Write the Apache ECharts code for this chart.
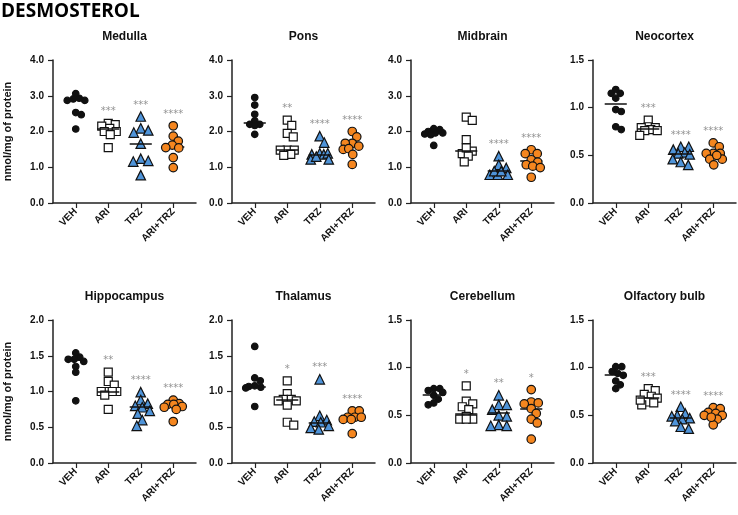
<!DOCTYPE html>
<html>
<head>
<meta charset="utf-8">
<script src="https://cdn.jsdelivr.net/npm/echarts@6/dist/echarts.min.js"></script>
<style>
html, body { margin: 0; padding: 0; background: #fff; }
#main { width: 738px; height: 515px; }
</style>
</head>
<body>
<div id="main"></div>
<script>
var groups = ['VEH', 'ARI', 'TRZ', 'ARI+TRZ'];
var regionNames = ['Medulla', 'Pons', 'Midbrain', 'Neocortex', 'Hippocampus', 'Thalamus', 'Cerebellum', 'Olfactory bulb'];
var yMaxes = [4, 4, 4, 1.5, 2, 2, 1.5, 1.5];
var yIntervals = [1, 1, 1, 0.5, 0.5, 0.5, 0.5, 0.5];

// values per group: VEH, ARI, TRZ, ARI+TRZ
var medulla = [
    [2.93, 2.87, 3.06, 2.87, 2.91, 2.53, 2.47, 2.07],
    [2.23, 2.19, 2.15, 2.09, 2.0, 2.0, 1.91, 1.55],
    [2.42, 2.09, 1.97, 2.03, 1.66, 1.24, 1.16, 1.18, 0.78],
    [2.16, 1.87, 1.73, 1.62, 1.54, 1.55, 1.27, 0.99]
];
var pons = [
    [2.95, 2.74, 2.48, 2.30, 2.20, 2.20, 2.17, 1.92],
    [2.32, 2.17, 1.95, 1.85, 1.48, 1.48, 1.48, 1.36, 1.33],
    [1.87, 1.69, 1.39, 1.36, 1.36, 1.39, 1.22, 1.22, 1.30],
    [2.0, 1.85, 1.67, 1.67, 1.59, 1.50, 1.52, 1.36, 1.08]
];
var midbrain = [
    [2.08, 2.00, 2.05, 1.96, 1.91, 1.93, 1.96, 1.61],
    [2.40, 2.31, 1.77, 1.45, 1.38, 1.54, 1.31, 1.15],
    [1.31, 1.07, 0.98, 0.79, 0.79, 0.79, 0.89, 0.89],
    [1.49, 1.38, 1.38, 1.21, 1.14, 1.07, 1.03, 0.99, 0.72]
];
var neocortex = [
    [1.15, 1.19, 1.15, 1.10, 0.96, 0.98, 0.77, 0.80],
    [0.87, 0.80, 0.79, 0.79, 0.77, 0.76, 0.76, 0.71],
    [0.59, 0.59, 0.56, 0.53, 0.51, 0.52, 0.46, 0.43, 0.40],
    [0.63, 0.59, 0.52, 0.52, 0.52, 0.46, 0.46, 0.40, 0.50]
];
var hippocampus = [
    [1.48, 1.54, 1.45, 1.42, 1.45, 1.35, 1.27, 0.87],
    [1.27, 1.14, 1.09, 1.00, 1.00, 1.00, 1.00, 0.95, 0.75],
    [0.99, 0.88, 0.83, 0.80, 0.78, 0.73, 0.69, 0.60, 0.52],
    [0.88, 0.83, 0.82, 0.82, 0.79, 0.78, 0.75, 0.58]
];
var thalamus = [
    [1.63, 1.19, 1.15, 1.08, 1.06, 1.07, 1.05, 0.79],
    [1.15, 0.97, 0.89, 0.87, 0.89, 0.87, 0.81, 0.57, 0.53],
    [1.17, 0.66, 0.60, 0.58, 0.57, 0.52, 0.49, 0.47],
    [0.73, 0.73, 0.64, 0.64, 0.64, 0.61, 0.61, 0.41]
];
var cerebellum = [
    [0.78, 0.78, 0.76, 0.74, 0.71, 0.67, 0.63, 0.61],
    [0.81, 0.65, 0.62, 0.59, 0.56, 0.49, 0.46, 0.46, 0.46],
    [0.71, 0.61, 0.61, 0.56, 0.50, 0.49, 0.40, 0.39, 0.39],
    [0.77, 0.64, 0.63, 0.62, 0.57, 0.52, 0.46, 0.42, 0.25]
];
var olfactory = [
    [1.01, 1.01, 0.96, 0.94, 0.92, 0.86, 0.82, 0.78],
    [0.78, 0.76, 0.72, 0.70, 0.68, 0.64, 0.63, 0.61, 0.66],
    [0.59, 0.52, 0.50, 0.49, 0.47, 0.46, 0.44, 0.38, 0.36],
    [0.58, 0.57, 0.53, 0.52, 0.50, 0.50, 0.46, 0.40, 0.48]
];

// centre lines as drawn
var medullaLine = [2.91, 2.07, 1.66, 1.57];
var ponsLine = [2.25, 1.48, 1.36, 1.61];
var midbrainLine = [1.98, 1.45, 0.91, 1.17];
var neocortexLine = [1.04, 0.78, 0.52, 0.51];
var hippocampusLine = [1.45, 1.00, 0.78, 0.80];
var thalamusLine = [1.06, 0.88, 0.56, 0.64];
var cerebellumLine = [0.72, 0.52, 0.53, 0.57];
var olfactoryLine = [0.93, 0.68, 0.47, 0.50];

var stars = [
    ['', '***', '***', '****'],
    ['', '**', '****', '****'],
    ['', '', '****', '****'],
    ['', '***', '****', '****'],
    ['', '**', '****', '****'],
    ['', '*', '***', '****'],
    ['', '*', '**', '*'],
    ['', '***', '****', '****']
];

var regionData = [medulla, pons, midbrain, neocortex, hippocampus, thalamus, cerebellum, olfactory];
var regionLines = [medullaLine, ponsLine, midbrainLine, neocortexLine, hippocampusLine, thalamusLine, cerebellumLine, olfactoryLine];

var gridLeft = [53, 232, 411, 593];
var gridTop = [60, 320];
var gridW = 143, gridH = 143;
var xMin = 0.3, xMax = 4.7;
var pxPerX = gridW / (xMax - xMin);

var groupStyle = [
    { symbol: 'circle', size: 6.5, color: '#111', spread: 6 },
    { symbol: 'rect', size: 8, color: '#fff', spread: 7 },
    { symbol: 'triangle', size: 9.5, color: '#4f94d9', spread: 8 },
    { symbol: 'circle', size: 8.5, color: '#f5861f', spread: 7 }
];
var maxHalfWidth = 9;

// spread overlapping points sideways inside a limited width, in pixels
function swarm(vals, d, pxY) {
    var placed = [];
    var out = [];
    var order = vals.map(function (v, i) { return i; });
    order.sort(function (a, b) { return vals[b] - vals[a]; });
    var cands = [0];
    for (var s = 0.5; s <= maxHalfWidth; s += 0.5) cands.push(s, -s);
    order.forEach(function (i) {
        var y = vals[i] * pxY;
        var best = 0, bestCost = Infinity;
        cands.forEach(function (c) {
            var cost = Math.abs(c) * 0.08;
            placed.forEach(function (p) {
                var ex = c - p.x, ey = y - p.y;
                var ov = d - Math.sqrt(ex * ex + ey * ey);
                if (ov > 0) cost += ov * ov;
            });
            if (cost < bestCost - 1e-9) { bestCost = cost; best = c; }
        });
        placed.push({ x: best, y: y });
        out[i] = best;
    });
    return out;
}

var labelFont = 'Liberation Sans';
var option = {
    animation: false,
    backgroundColor: '#fff',
    grid: [],
    xAxis: [],
    yAxis: [],
    series: [],
    graphic: [{
        type: 'text', left: 1, top: 2,
        style: { text: 'DESMOSTEROL', font: 'bold 19px "Open Sans"', fill: '#000' }
    }]
};

regionNames.forEach(function (name, r) {
    var left = gridLeft[r % 4], top = gridTop[Math.floor(r / 4)];
    var pxPerY = gridH / yMaxes[r];
    option.grid.push({ left: left, top: top, width: gridW, height: gridH });
    option.graphic.push({
        type: 'text', x: left + gridW / 2, y: top - 23,
        style: { text: name, font: 'bold 12px "' + labelFont + '"', fill: '#111', textAlign: 'center', textVerticalAlign: 'middle' }
    });
    option.xAxis.push({
        type: 'value', gridIndex: r, min: xMin, max: xMax,
        splitLine: { show: false },
        axisLine: { lineStyle: { color: '#222', width: 1.5 } },
        axisTick: { customValues: [1, 2, 3, 4], length: 5, lineStyle: { color: '#222', width: 1.2 } },
        axisLabel: {
            customValues: [1, 2, 3, 4], rotate: 45, margin: 7,
            color: '#111', fontSize: 10, fontWeight: 'bold', fontFamily: labelFont,
            formatter: function (v) { return groups[Math.round(v) - 1]; }
        }
    });
    option.yAxis.push({
        type: 'value', gridIndex: r, min: 0, max: yMaxes[r], interval: yIntervals[r],
        name: r % 4 === 0 ? 'nmol/mg of protein' : '',
        nameLocation: 'middle', nameGap: 40,
        nameTextStyle: { color: '#111', fontSize: 11, fontWeight: 'bold', fontFamily: labelFont },
        splitLine: { show: false },
        axisLine: { show: true, lineStyle: { color: '#222', width: 1.5 } },
        axisTick: { show: true, length: 5, lineStyle: { color: '#222', width: 1.2 } },
        axisLabel: {
            margin: 9, color: '#111', fontSize: 10, fontWeight: 'bold', fontFamily: labelFont,
            formatter: function (v) { return v.toFixed(1); }
        }
    });

    var data = regionData[r];
    var topPoints = [];
    data.forEach(function (vals, g) {
        var st = groupStyle[g];
        var offs = swarm(vals, st.spread, pxPerY);
        var pts = vals.map(function (v, i) { return [g + 1 + offs[i] / pxPerX, v]; });
        var m = regionLines[r][g];
        option.series.push({
            type: 'scatter', xAxisIndex: r, yAxisIndex: r,
            symbol: st.symbol, symbolSize: st.size,
            itemStyle: { color: st.color, borderColor: '#111', borderWidth: 1.2, opacity: 1 },
            emphasis: { disabled: true },
            data: pts,
            markLine: {
                silent: true, symbol: 'none', label: { show: false },
                lineStyle: { color: '#111', width: 1.5, type: 'solid' },
                data: [[{ coord: [g + 1 - 0.34, m] }, { coord: [g + 1 + 0.34, m] }]]
            },
            z: 2 + g
        });
        topPoints.push({ value: [g + 1, Math.max.apply(null, vals)], label: { formatter: stars[r][g] } });
    });
    option.series.push({
        type: 'scatter', xAxisIndex: r, yAxisIndex: r,
        symbolSize: 1, itemStyle: { color: 'rgba(0,0,0,0)' },
        label: { show: true, position: 'top', distance: 6, color: '#777', fontSize: 10, fontFamily: 'DejaVu Sans' },
        silent: true,
        data: topPoints,
        z: 10
    });
});

var myChart = echarts.init(document.getElementById('main'));
myChart.setOption(option);
</script>
</body>
</html>
